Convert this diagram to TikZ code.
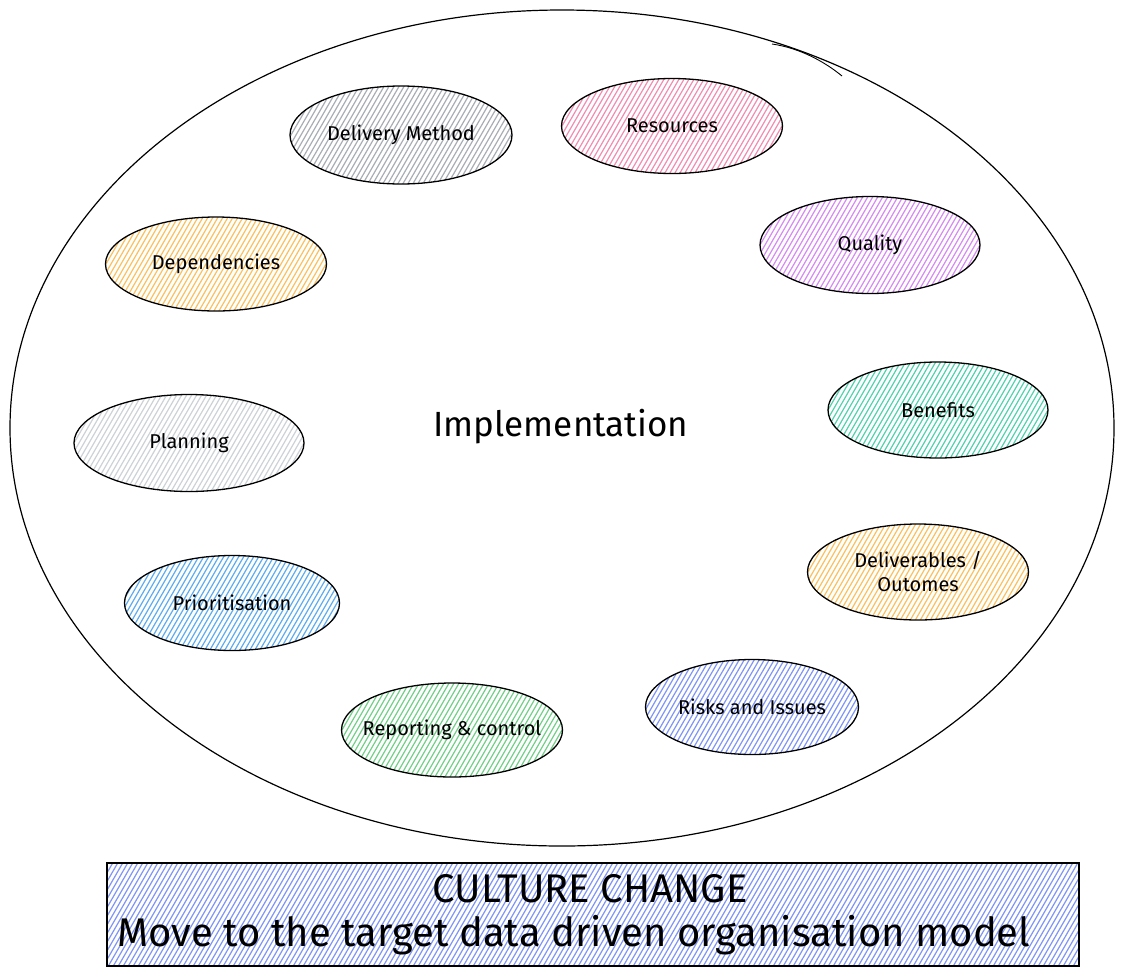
\documentclass[tikz,border=0pt]{standalone}
\usepackage{fontspec}
\setmainfont{Fira Sans}
\usetikzlibrary{shapes.geometric}
\definecolor{cgrey}{HTML}{A8AEB4}
\definecolor{cpink}{HTML}{F28DB2}
\definecolor{cyellow}{HTML}{FCC05C}
\definecolor{cpurple}{HTML}{D48BF2}
\definecolor{cteal}{HTML}{52D2AC}
\definecolor{clight}{HTML}{CDD2D7}
\definecolor{cblue}{HTML}{5EACF0}
\definecolor{cviolet}{HTML}{7F95F7}
\definecolor{cgreen}{HTML}{72CF88}
\begin{document}
\begin{tikzpicture}[x=1pt,y=-1pt,
  hatch/.style={path picture={
    \foreach \i in {-560,-555,...,560}{
      \draw[#1,line width=1.2pt] ([xshift=\i pt]path picture bounding box.center) ++(-64,111) -- ++(128,-222);}}},
  blob/.style={ellipse, draw=black, line width=1.3pt, inner xsep=-30pt, inner ysep=-5pt,
    font=\fontsize{20}{24}\selectfont, align=center},
  lbl/.style={inner sep=0pt}]
\fill[white] (0,0) rectangle (1123,975);
\useasboundingbox (0,0) rectangle (1123,975);
% outer ellipse
\node[ellipse, draw=black, line width=1.2pt, minimum width=1104pt, minimum height=836pt] (outer) at (562,428) {};
\draw[line width=0.9pt] (772,44) .. controls (800,48) and (825,62) .. (842,76);
\node[lbl, font=\fontsize{35}{40}\selectfont] (impl) at (561,427) {Implementation};
% items
\node[blob, hatch=cgrey, minimum width=222pt, minimum height=98pt] (delivery) at (401,135) {Delivery Method};
\node[blob, hatch=cpink, minimum width=221pt, minimum height=95pt] (resources) at (672,126) {Resources};
\node[blob, hatch=cyellow, minimum width=221pt, minimum height=94pt] (dependencies) at (216,264) {Dependencies};
\node[blob, hatch=cpurple, minimum width=220pt, minimum height=97pt] (quality) at (870,245) {Quality};
\node[blob, hatch=cteal, minimum width=220pt, minimum height=96pt] (benefits) at (938,410) {Benefits};
\node[blob, hatch=clight, minimum width=230pt, minimum height=97pt] (planning) at (189,443) {Planning};
\node[blob, hatch=cyellow, minimum width=221pt, minimum height=96pt] (deliverables) at (918,572) {Deliverables /\\Outomes};
\node[blob, hatch=cblue, minimum width=215pt, minimum height=95pt] (prioritisation) at (232,603) {Prioritisation};
\node[blob, hatch=cviolet, minimum width=213pt, minimum height=95pt] (risks) at (752,707) {Risks and Issues};
\node[blob, hatch=cgreen, minimum width=221pt, minimum height=94pt] (reporting) at (452,730) {Reporting \& control};
% culture change box
\node[draw=black, line width=1.3pt, hatch=cviolet, minimum width=972pt, minimum height=103pt, inner sep=0pt] (culture) at (593,914.5) {};
\node[lbl, font=\fontsize{40}{44}\selectfont] (cc) at (590,889) {CULTURE CHANGE};
\node[lbl, font=\fontsize{40}{44}\selectfont, anchor=west] (move) at (117,935) {Move to the target data driven organisation model};
\end{tikzpicture}
\end{document}
